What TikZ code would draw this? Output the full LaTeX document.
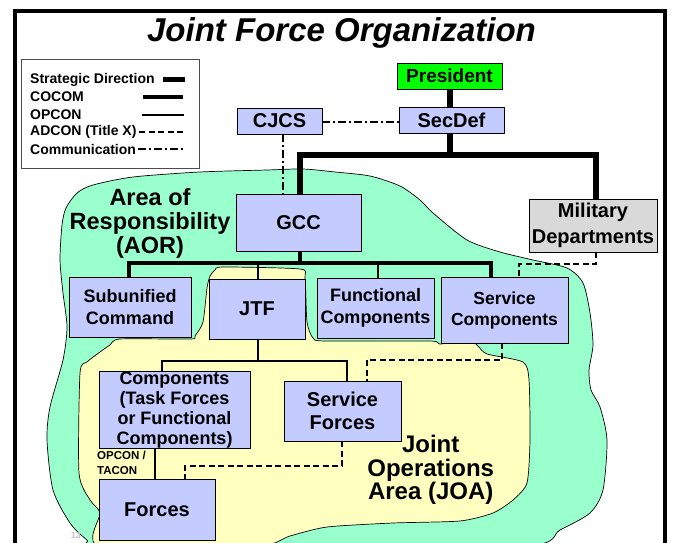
\documentclass[tikz,border=0pt]{standalone}
\usepackage{fontspec}
\setmainfont{Liberation Sans}
\definecolor{boxblue}{RGB}{195,203,255}
\definecolor{aorgreen}{RGB}{153,255,204}
\definecolor{joayellow}{RGB}{255,255,192}
\definecolor{presgreen}{RGB}{0,255,0}
\definecolor{deptgray}{RGB}{217,217,217}
\begin{document}
\begin{tikzpicture}[x=1pt,y=-1pt,line join=miter,
  box/.style={draw=black,line width=0.8pt,fill=boxblue,align=center,inner sep=0pt},
  fs/.style={font=\fontsize{#1}{#1}\selectfont\bfseries},
  strat/.style={line width=6pt},
  cocom/.style={line width=3.5pt},
  opcon/.style={line width=1.8pt},
  adcon/.style={line width=1.8pt,dash pattern=on 6pt off 3.5pt},
  comm/.style={line width=1.5pt,dash pattern=on 8pt off 3pt on 2pt off 3pt},
  area/.style={draw=black,line width=0.7pt},
  legtext/.style={anchor=west,inner sep=0pt,font=\fontsize{14}{17}\selectfont\bfseries},
  arealabel/.style={align=center,inner sep=0pt,font=\fontsize{23.5}{24}\selectfont\bfseries},
]
\useasboundingbox (0,0) rectangle (673,543);
\clip (0,0) rectangle (673,543);

% slide frame
\draw[line width=4pt] (14.5,560) -- (14.5,11) -- (665,11) -- (665,560);

% title
\node[inner sep=0pt,font=\fontsize{33}{36}\selectfont\bfseries\itshape] (title) at (341.5,33) {Joint Force Organization};

% area of responsibility
\draw[area,fill=aorgreen] plot[smooth cycle,tension=0.45] coordinates {
  (62,225) (66,208) (77,193) (93,185) (133,177) (200,172) (267,170) (303,169)
  (335,172) (370,176) (400,186) (420,200) (433,213) (467,240) (500,252)
  (533,260) (567,268) (583,283) (590,313) (593,345) (589,370) (591,390)
  (600,407) (607,440) (603,490) (590,513) (560,530) (527,546) (300,549)
  (100,547) (87,540) (70,523) (53,490) (47,440) (50,407) (63,360) (67,327)
  (63,293) (60,260)};

% joint operations area
\draw[area,fill=joayellow] plot[smooth cycle,tension=0.4] coordinates {
  (210,276) (215,270) (223,267) (300,269) (305,278) (307,322) (313,338)
  (325,341) (430,341) (440,344) (470,341) (478,346) (487,354) (523,362)
  (529,380) (530,440) (527,483) (513,500) (493,513) (460,521) (393,523)
  (327,527) (290,536) (255,547) (100,547) (100,513) (90,500) (79,473)
  (80,373) (87,362) (100,352) (110,345) (120,339) (190,339) (195,336)
  (203,322) (207,288)};

% page number
\node[inner sep=0pt,text=black!25,font=\fontsize{9}{9}\selectfont\bfseries] (pageno) at (76,535) {13};

% legend
\node[draw=black!70,line width=0.8pt,fill=white,anchor=north west,inner sep=0pt,
      minimum width=178pt,minimum height=109pt] (legend) at (21,59) {};
\node[legtext] (lg1) at (30,80) {Strategic Direction};
\node[legtext] (lg2) at (30,97) {COCOM};
\node[legtext] (lg3) at (30,115) {OPCON};
\node[legtext] (lg4) at (30,132) {ADCON (Title X)};
\node[legtext] (lg5) at (30,149) {Communication};
\draw[line width=5pt] (163,80) -- (185,80);
\draw[cocom] (143,97) -- (183,97);
\draw[opcon] (142,115) -- (184,115);
\draw[adcon] (139,132) -- (183,132);
\draw[comm] (138,149) -- (183,149);

% organisation boxes
\node[box,fill=presgreen,fs=19,minimum width=105pt,minimum height=26pt] (pres) at (449.5,76) {President};
\node[box,fs=20,minimum width=105pt,minimum height=26pt] (sec) at (451.5,120) {SecDef};
\node[box,fs=20,minimum width=85pt,minimum height=26pt] (cjcs) at (279.5,121) {CJCS};
\node[box,fs=20,minimum width=125pt,minimum height=57pt] (gcc) at (298.5,222.5) {GCC};
\node[box,fill=deptgray,font=\fontsize{20}{26}\selectfont\bfseries,minimum width=128pt,minimum height=53pt] (dept) at (593,225.5) {Military\\Departments};
\node[box,font=\fontsize{18}{21.5}\selectfont\bfseries,minimum width=122pt,minimum height=60pt] (sub) at (130,307) {Subunified\\Command};
\node[box,fs=20,minimum width=96pt,minimum height=60pt] (jtf) at (257,309) {JTF};
\node[box,font=\fontsize{18}{21.5}\selectfont\bfseries,minimum width=117pt,minimum height=60pt] (func) at (375.5,308) {Functional\\Components};
\node[box,font=\fontsize{17.5}{21}\selectfont\bfseries,minimum width=127pt,minimum height=66pt] (svc) at (504.5,310) {Service\\Components};
\node[box,font=\fontsize{18}{20}\selectfont\bfseries,minimum width=151pt,minimum height=76pt] (comp) at (174.5,410) {Components\\(Task Forces\\or Functional\\Components)};
\node[box,font=\fontsize{20}{23.5}\selectfont\bfseries,minimum width=117pt,minimum height=60pt] (sf) at (342.5,411) {Service\\Forces};
\node[box,fs=20,minimum width=116pt,minimum height=61pt] (forces) at (157,509.5) {Forces};

% area labels
\node[arealabel] (aor) at (150,223.5) {Area of\\Responsibility\\(AOR)};
\node[arealabel,font=\fontsize{24}{23.7}\selectfont\bfseries] (joa) at (430.7,470) {Joint\\Operations\\Area (JOA)};
\node[inner sep=0pt,align=left,anchor=north west,font=\fontsize{11.5}{15}\selectfont\bfseries] (optac) at (97,451) {OPCON /\\TACON};

% strategic direction
\coordinate (barL) at (300,155);
\coordinate (barR) at (596,155);
\draw[strat] (pres.south) -- (pres.south |- sec.north);
\draw[strat] (pres.south |- sec.south) -- (pres.south |- barL);
\draw[strat] (gcc.north -| barL) -- (barL) -- (barR) -- (dept.north -| barR);

% communication
\coordinate (cjx) at (283,0);
\draw[comm] (cjcs.east |- 0,122) -- (sec.west |- 0,122);
\draw[comm] (cjcs.south -| cjx) -- (gcc.north -| cjx);

% combatant command
\coordinate (gbarL) at (129,263);
\coordinate (gbarR) at (491,263);
\coordinate (gx) at (300,0);
\draw[cocom] (gcc.south -| gx) -- (gbarL -| gx);
\draw[cocom] (sub.north -| gbarL) -- (gbarL) -- (gbarR) -- (svc.north -| gbarR);
\coordinate (jx) at (258,0);
\coordinate (fx) at (378,0);
\draw[opcon] (gbarL -| jx) -- (jtf.north -| jx);
\draw[opcon] (gbarL -| fx) -- (func.north -| fx);

% operational control inside the JOA
\coordinate (jbarL) at (162,361);
\coordinate (jbarR) at (347,361);
\draw[opcon] (jtf.south -| jx) -- (jbarL -| jx);
\draw[opcon] (comp.north -| jbarL) -- (jbarL) -- (jbarR) -- (sf.north -| jbarR);
\coordinate (cx) at (155,0);
\draw[opcon] (comp.south -| cx) -- (forces.north -| cx);

% administrative control
\coordinate (d1) at (596,264);
\coordinate (d2) at (519,264);
\draw[adcon] (dept.south -| d1) -- (d1) -- (d2) -- (svc.north -| d2);
\coordinate (s1) at (502,360);
\coordinate (s2) at (367,360);
\draw[adcon] (svc.south -| s1) -- (s1) -- (s2) -- (sf.north -| s2);
\coordinate (f1) at (342,466);
\coordinate (f2) at (185,466);
\draw[adcon] (sf.south -| f1) -- (f1) -- (f2) -- (forces.north -| f2);
\end{tikzpicture}
\end{document}
